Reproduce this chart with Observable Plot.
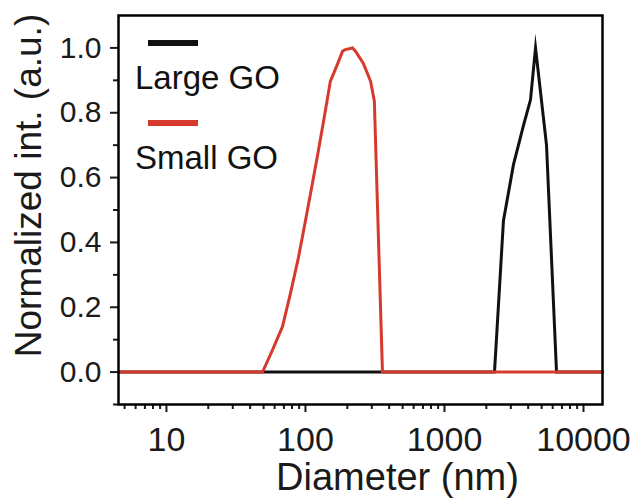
<!DOCTYPE html>
<html>
<head>
<meta charset="utf-8">
<script src="https://cdn.jsdelivr.net/npm/d3@7"></script>
<script src="https://cdn.jsdelivr.net/npm/@observablehq/plot@0.6"></script>
<style>
  html, body { margin: 0; padding: 0; background: #ffffff; }
  #chart svg { display: block; }
</style>
</head>
<body>
<div id="chart"></div>
<script>
// DLS size distributions of graphene oxide sheets (normalized intensity)
const seriesNames = ["Large GO", "Small GO"];
const seriesColors = ["#111111", "#d63a2c"];

// Large GO
const largeDiameter = [4.52, 2290, 2656, 3135, 3698, 4157, 4518, 5420, 6397, 13700];
const largeIntensity = [0, 0, 0.467, 0.64, 0.76, 0.84, 1.0, 0.70, 0, 0];

// Small GO
const smallDiameter = [4.52, 49.1, 57.9, 68.3, 78.0, 89.1, 100, 112, 122, 137, 151, 170, 185, 194, 218, 229, 261, 294, 313, 358, 13700];
const smallIntensity = [0, 0, 0.068, 0.14, 0.243, 0.354, 0.467, 0.58, 0.667, 0.79, 0.897, 0.95, 0.99, 0.995, 1.0, 0.99, 0.952, 0.897, 0.836, 0, 0];

// Axis ticks
const xMajorTicks = [10, 100, 1000, 10000];
const xMinorTicks = [5, 6, 7, 8, 9, 20, 30, 40, 50, 60, 70, 80, 90, 200, 300, 400, 500, 600, 700, 800, 900, 2000, 3000, 4000, 5000, 6000, 7000, 8000, 9000];
const yMajorTicks = [0, 0.2, 0.4, 0.6, 0.8, 1.0];
const yMinorTicks = [-0.1, 0.1, 0.3, 0.5, 0.7, 0.9];

const xTitle = "Diameter (nm)";
const yTitle = "Normalized int. (a.u.)";

const toRows = (xs, ys, name) => xs.map((d, i) => ({diameter: d, intensity: ys[i], series: name}));
const large = toRows(largeDiameter, largeIntensity, seriesNames[0]);
const small = toRows(smallDiameter, smallIntensity, seriesNames[1]);

// In-frame legend: short thick swatch with its label underneath
function legend(dims) {
  const g = d3.create("svg:g")
    .attr("font-family", "Arial, 'Liberation Sans', sans-serif")
    .attr("font-size", 33)
    .attr("text-anchor", "start")
    .attr("fill", "#111");
  const x0 = dims.marginLeft, y0 = dims.marginTop;
  seriesNames.forEach((name, i) => {
    const top = y0 + i * 80;
    g.append("line")
      .attr("x1", x0 + 30).attr("x2", x0 + 80)
      .attr("y1", top + 28).attr("y2", top + 28)
      .attr("stroke", seriesColors[i]).attr("stroke-width", 6);
    g.append("text")
      .attr("x", x0 + 17).attr("y", top + 74)
      .text(name);
  });
  return g.node();
}

const chart = Plot.plot({
  width: 635,
  height: 503,
  marginLeft: 118,
  marginRight: 33,
  marginTop: 15,
  marginBottom: 99,
  style: {background: "#ffffff", fontFamily: "Arial, 'Liberation Sans', sans-serif", color: "#1a1a1a"},
  x: {type: "log", domain: [4.52, 13700]},
  y: {domain: [-0.1, 1.1]},
  marks: [
    Plot.axisX({ticks: xMinorTicks, tickSize: 5, strokeWidth: 2, tickFormat: () => "", label: null}),
    Plot.axisX({ticks: xMajorTicks, tickSize: 8, strokeWidth: 2, tickPadding: 14, tickFormat: d => String(d),
      fontSize: 34, fontFamily: "'Liberation Sans Narrow', 'Arial Narrow', sans-serif", label: null}),
    Plot.axisY({ticks: yMinorTicks, tickSize: 5, strokeWidth: 2, tickFormat: () => "", label: null}),
    Plot.axisY({ticks: yMajorTicks, tickSize: 8, strokeWidth: 2, tickPadding: 9, tickFormat: d3.format(".1f"),
      fontSize: 30, label: null}),
    Plot.line(large, {x: "diameter", y: "intensity", stroke: seriesColors[0], strokeWidth: 3,
      strokeLinejoin: "miter", strokeMiterlimit: 12}),
    Plot.line(small, {x: "diameter", y: "intensity", stroke: seriesColors[1], strokeWidth: 3,
      strokeLinejoin: "miter", strokeMiterlimit: 12}),
    Plot.frame({stroke: "#000", strokeWidth: 2.5}),
    Plot.text([xTitle], {frameAnchor: "bottom", textAnchor: "middle", dx: 37, dy: 73, fontSize: 38, lineAnchor: "middle", fill: "#1a1a1a"}),
    Plot.text([yTitle], {frameAnchor: "left", textAnchor: "middle", rotate: -90, dx: -89.5, dy: -24.5, fontSize: 37, lineAnchor: "middle", fill: "#1a1a1a"}),
    (index, scales, values, dims) => legend(dims)
  ]
});

document.getElementById("chart").appendChild(chart);
</script>
</body>
</html>
